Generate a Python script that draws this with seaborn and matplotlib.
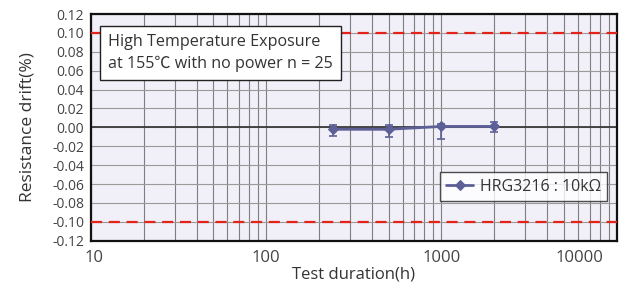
import numpy as np
import pandas as pd
import matplotlib
matplotlib.use("Agg")
import matplotlib.pyplot as plt
import matplotlib.transforms as mtransforms
import seaborn as sns

# values
hours = [240, 500, 1000, 2000]
drift = [-0.002, -0.002, 0.001, 0.001]
err_low = [0.007, 0.008, 0.013, 0.006]
err_high = [0.005, 0.005, 0.003, 0.005]
series_name = "HRG3216 : 10kΩ"

y_ticks = [-0.12, -0.10, -0.08, -0.06, -0.04, -0.02, 0.00, 0.02, 0.04, 0.06, 0.08, 0.10, 0.12]
x_ticks = [10, 100, 1000, 10000]
x_labels = ["10", "100", "1000", "10000"]
limit = 0.10

sns.set_theme(style="white")
plt.rcParams['font.family'] = ['Open Sans', 'Noto Sans CJK JP', 'DejaVu Sans']

df = pd.DataFrame({'hours': hours, 'drift': drift})

fig = plt.figure(figsize=(6.22, 2.87), dpi=100)
ax = fig.add_axes([0.1463, 0.1613, 0.9915 - 0.1463, 0.951 - 0.1613])
ax.set_facecolor('#f1eff7')

ax.set_xscale('log')
ax.set_xlim(10, 10000)
ax.set_ylim(-0.12, 0.12)

# grid
minor_x = [m * d for d in [10, 100, 1000] for m in range(2, 10)]
for xv in minor_x + x_ticks:
    ax.axvline(xv, color='#7e7e7e', lw=0.8, zorder=1)
for yv in y_ticks:
    ax.axhline(yv, color='#9a9a9a', lw=0.8, zorder=1)
ax.axhline(0, color='#3a3a3a', lw=1.3, zorder=2)

# limit lines
for yv in [limit, -limit]:
    ax.axhline(yv, color='#e32219', lw=1.6, ls=(0, (5, 3)), zorder=3)

line_col = '#5d6097'
ax.errorbar(hours, drift, yerr=[err_low, err_high], fmt='none', ecolor=line_col,
            elinewidth=1.2, capsize=3, capthick=1.2, zorder=4)
sns.lineplot(data=df, x='hours', y='drift', ax=ax, color=line_col, lw=2.0,
             marker='D', markersize=5, markeredgecolor=line_col, label=series_name, zorder=5)

ax.set_yticks(y_ticks)
ax.set_yticklabels([f"{v:.2f}" for v in y_ticks], color='#444444', fontsize=10)
ax.set_xticks(x_ticks)
ax.set_xticklabels(x_labels, color='#444444', fontsize=12)
ax.xaxis.set_minor_locator(matplotlib.ticker.NullLocator())
ax.tick_params(axis='both', length=0, pad=5)
ax.tick_params(axis='x', pad=7)

# shift the last x label left like the reference
labels = ax.get_xticklabels()
labels[-1].set_transform(labels[-1].get_transform() +
                         mtransforms.ScaledTranslation(-0.37, 0, fig.dpi_scale_trans))
labels[0].set_transform(labels[0].get_transform() +
                        mtransforms.ScaledTranslation(0.035, 0, fig.dpi_scale_trans))

ax.set_xlabel("Test duration(h)", color='#333333', fontsize=12, labelpad=0)
ax.set_ylabel("Resistance drift(%)", color='#333333', fontsize=12.5, labelpad=12)

for s in ax.spines.values():
    s.set_color('#111111')
    s.set_linewidth(1.6)
    s.set_visible(True)

ax.text(0.032, 0.91, "High Temperature Exposure\nat 155℃ with no power n = 25",
        transform=ax.transAxes, fontsize=11.6, color='#333333', va='top', ha='left',
        linespacing=1.45,
        bbox=dict(boxstyle='square,pad=0.5', facecolor='white', edgecolor='#222222', lw=1.0),
        zorder=6)

leg = ax.legend(loc='lower right', bbox_to_anchor=(0.997, 0.14), frameon=True, fancybox=False,
                fontsize=11.5, handlelength=1.7, handletextpad=0.4, borderpad=0.4,
                labelcolor='#333333')
leg.get_frame().set_edgecolor('#222222')
leg.get_frame().set_linewidth(1.0)
leg.set_zorder(7)

fig.savefig('out.png', dpi=100)
